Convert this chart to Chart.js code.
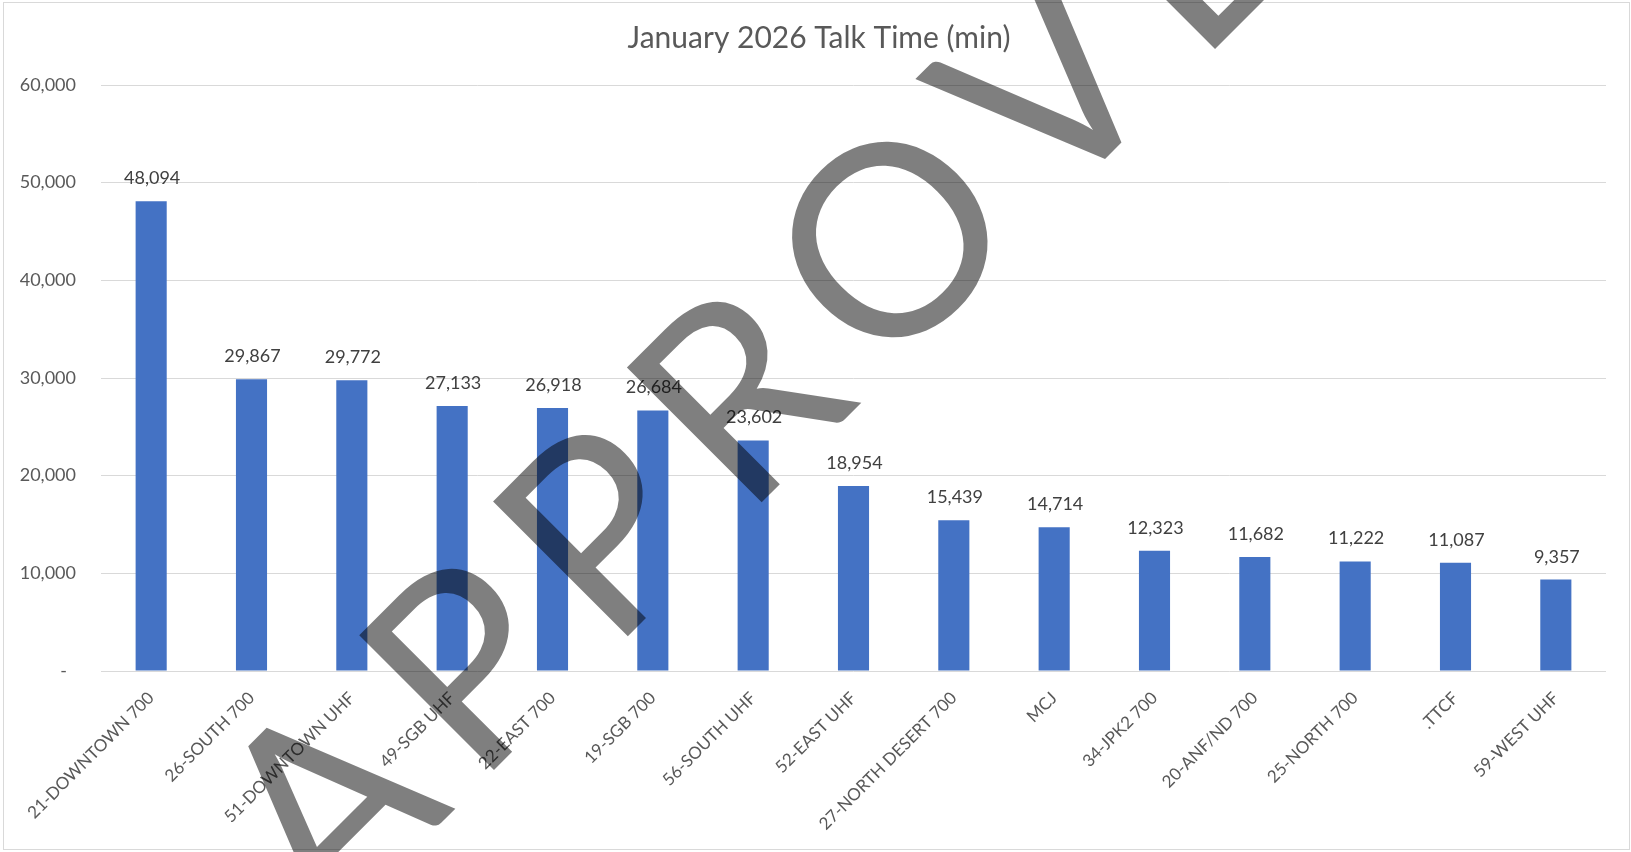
<!DOCTYPE html>
<html>
<head>
<meta charset="utf-8">
<script src="https://cdn.jsdelivr.net/npm/chart.js@4.4.1/dist/chart.umd.min.js"></script>
<style>
  html, body { margin: 0; padding: 0; background: #ffffff; }
  #wrap { width: 1631px; height: 852px; position: relative; }
</style>
</head>
<body>
<div id="wrap"><canvas id="c"></canvas></div>
<script>
// ---- data ----
const chartTitle = 'January 2026 Talk Time (min)';
const categories = [
  '21-DOWNTOWN 700', '26-SOUTH 700', '51-DOWNTOWN UHF', '49-SGB UHF', '22-EAST 700',
  '19-SGB 700', '56-SOUTH UHF', '52-EAST UHF', '27-NORTH DESERT 700', 'MCJ',
  '34-JPK2 700', '20-ANF/ND 700', '25-NORTH 700', '.TTCF', '59-WEST UHF'
];
const talkTime = [48094, 29867, 29772, 27133, 26918, 26684, 23602, 18954, 15439, 14714, 12323, 11682, 11222, 11087, 9357];
const yTicks = [0, 10000, 20000, 30000, 40000, 50000, 60000];
const watermarkText = 'APPROVED';

const FONT = 'Lato, Carlito, "Open Sans", sans-serif';
const fmt = v => v.toLocaleString('en-US');

const chartBorder = {
  id: 'chartBorder',
  beforeDraw(chart) {
    const ctx = chart.ctx;
    ctx.save();
    ctx.fillStyle = '#ffffff';
    ctx.fillRect(0, 0, chart.width, chart.height);
    ctx.strokeStyle = '#D9D9D9';
    ctx.lineWidth = 1;
    ctx.strokeRect(3.5, 2.5, 1626, 847);
    ctx.restore();
  }
};

const barLabels = {
  id: 'barLabels',
  afterDatasetsDraw(chart) {
    const ctx = chart.ctx;
    const meta = chart.getDatasetMeta(0);
    ctx.save();
    ctx.font = '18px ' + FONT;
    ctx.fillStyle = '#404040';
    ctx.textAlign = 'center';
    ctx.textBaseline = 'alphabetic';
    meta.data.forEach((bar, i) => {
      ctx.fillText(fmt(talkTime[i]), bar.x + 1, bar.y - 17);
    });
    ctx.restore();
  }
};

const watermark = {
  id: 'watermark',
  afterDraw(chart) {
    const ctx = chart.ctx;
    ctx.save();
    const size = 266;
    ctx.font = '400 ' + size + 'px ' + FONT;
    const hasLS = ('letterSpacing' in ctx);
    if (hasLS) ctx.letterSpacing = '0px';
    const w = s => ctx.measureText(s).width;
    const dist0 = w('APPRO') + w('V') / 2 - w('A') / 2;
    const target = 1025;
    const ang = -45 * Math.PI / 180;
    const ux = Math.cos(ang), uy = Math.sin(ang);
    const vx = 1117, vy = 147;
    let offV, k = 1;
    if (hasLS) {
      const s = (target - dist0) / 5;
      offV = w('APPRO') + 5 * s + w('V') / 2;
      ctx.letterSpacing = s.toFixed(2) + 'px';
    } else {
      k = target / dist0;
      offV = (w('APPRO') + w('V') / 2) * k;
    }
    const sx = vx - ux * offV, sy = vy - uy * offV;
    ctx.translate(sx, sy);
    ctx.rotate(ang);
    ctx.scale(k, 1);
    ctx.fillStyle = 'rgba(0,0,0,0.5)';
    ctx.textAlign = 'left';
    ctx.textBaseline = 'alphabetic';
    ctx.fillText(watermarkText, 0, 0);
    ctx.restore();
  }
};

new Chart(document.getElementById('c'), {
  type: 'bar',
  data: {
    labels: categories,
    datasets: [{
      label: 'Talk Time (min)',
      data: talkTime,
      yAxisID: 'y',
      backgroundColor: '#4472C4',
      borderWidth: 0,
      barPercentage: 0.31,
      categoryPercentage: 1.0
    }]
  },
  options: {
    responsive: true,
    maintainAspectRatio: false,
    devicePixelRatio: 1,
    animation: false,
    layout: { padding: { left: 7, right: 0, top: 0, bottom: 0 } },
    plugins: {
      legend: { display: false },
      tooltip: { enabled: false },
      title: {
        display: true,
        text: chartTitle,
        color: '#595959',
        font: { family: FONT, size: 30, weight: 'normal', lineHeight: 1.2 },
        padding: { top: 20, bottom: 29 }
      }
    },
    scales: {
      x: {
        grid: { display: false },
        border: { display: false },
        ticks: {
          color: '#595959',
          font: { family: FONT, size: 17 },
          minRotation: 45,
          maxRotation: 45,
          autoSkip: false,
          padding: 9
        },
        afterFit(scale) { scale.height = 181; }
      },
      y: {
        position: 'left',
        min: 0,
        max: 60000,
        afterBuildTicks(scale) { scale.ticks = yTicks.map(v => ({ value: v })); },
        grid: { color: '#D9D9D9', lineWidth: 1, drawTicks: false },
        border: { display: false },
        ticks: {
          color: '#595959',
          font: { family: FONT, size: 18 },
          padding: 25,
          callback: v => v === 0 ? '-\u2002' : fmt(v)
        },
        afterFit(scale) { scale.width = 94; }
      },
      yRightSpace: {
        position: 'right',
        display: true,
        grid: { display: false, drawTicks: false },
        border: { display: false },
        ticks: { display: false },
        afterFit(scale) { scale.width = 25; }
      }
    }
  },
  plugins: [chartBorder, barLabels, watermark]
});
</script>
</body>
</html>
